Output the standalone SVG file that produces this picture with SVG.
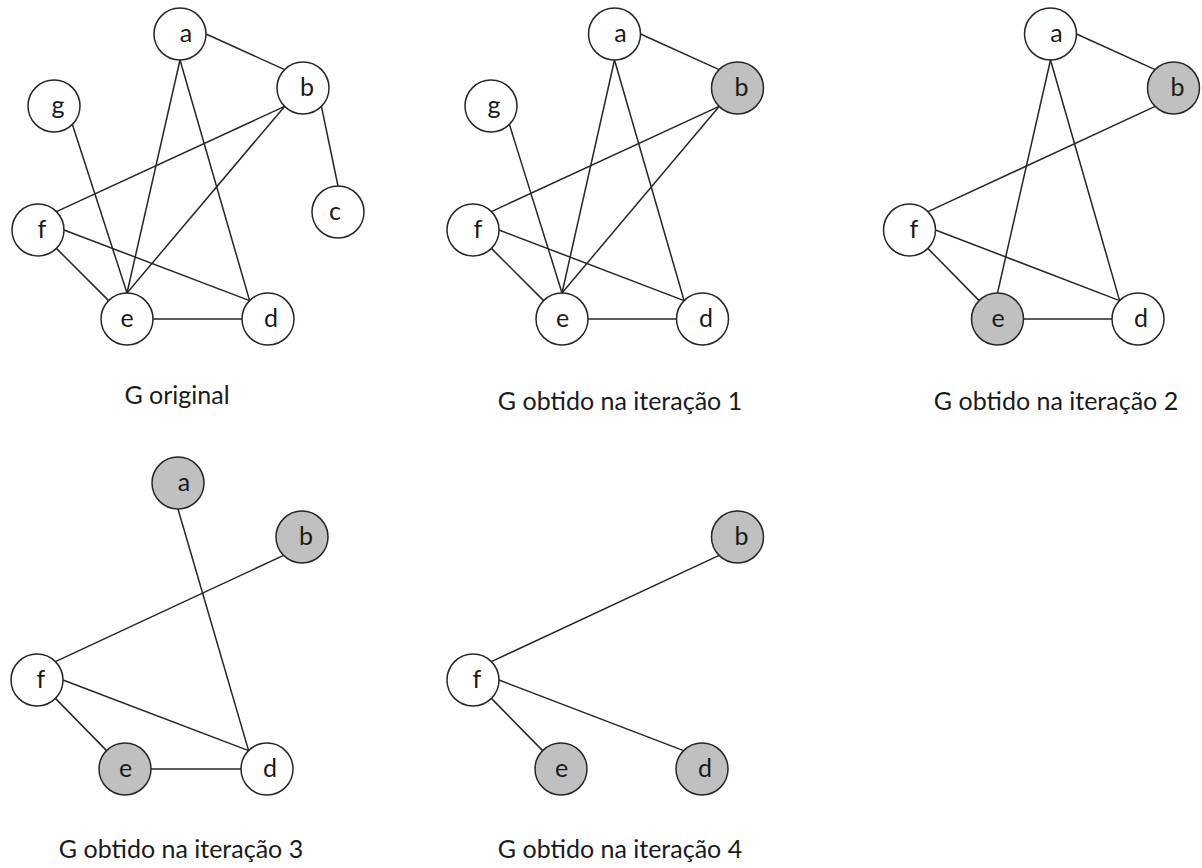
<svg xmlns="http://www.w3.org/2000/svg" width="1202" height="868" viewBox="0 0 1202 868">
  <style>
    .edge { stroke: #262626; stroke-width: 1.5; fill: none; }
    .node circle { stroke: #262626; stroke-width: 1.5; fill: #ffffff; }
    .node.marked circle { fill: #c0c0c0; }
    .node text { font-family: Lato, "Liberation Sans", sans-serif; font-size: 25px; fill: #1a1a1a; text-anchor: middle; }
    .caption { font-family: Lato, "Liberation Sans", sans-serif; font-size: 25px; fill: #1a1a1a; text-anchor: middle; }
  </style>

  <!-- connectors -->
  <g id="edges">
    <!-- G original -->
    <line class="edge" x1="206" y1="34" x2="284.6" y2="69.6"/>
    <line class="edge" x1="180" y1="60" x2="127" y2="293"/>
    <line class="edge" x1="180" y1="60" x2="249.6" y2="300.6"/>
    <line class="edge" x1="72.4" y1="124.4" x2="127" y2="293"/>
    <line class="edge" x1="284.6" y1="106.4" x2="56.4" y2="211.6"/>
    <line class="edge" x1="284.6" y1="106.4" x2="127" y2="293"/>
    <line class="edge" x1="321.4" y1="106.4" x2="338" y2="186"/>
    <line class="edge" x1="56.4" y1="248.4" x2="108.6" y2="300.6"/>
    <line class="edge" x1="64" y1="230" x2="249.6" y2="300.6"/>
    <line class="edge" x1="153" y1="319" x2="242" y2="319"/>
    <!-- iteration 1 -->
    <line class="edge" x1="640.5" y1="34" x2="719.1" y2="69.6"/>
    <line class="edge" x1="614.5" y1="60" x2="562" y2="293"/>
    <line class="edge" x1="614.5" y1="60" x2="684.1" y2="300.6"/>
    <line class="edge" x1="509.4" y1="124.4" x2="562" y2="293"/>
    <line class="edge" x1="719.1" y1="106.4" x2="491.4" y2="211.6"/>
    <line class="edge" x1="719.1" y1="106.4" x2="562" y2="293"/>
    <line class="edge" x1="491.4" y1="248.4" x2="543.6" y2="300.6"/>
    <line class="edge" x1="499" y1="230" x2="684.1" y2="300.6"/>
    <line class="edge" x1="588" y1="319" x2="676.5" y2="319"/>
    <!-- iteration 2 -->
    <line class="edge" x1="1076.5" y1="34" x2="1155.1" y2="69.6"/>
    <line class="edge" x1="1050.5" y1="60" x2="997.5" y2="293"/>
    <line class="edge" x1="1050.5" y1="60" x2="1119.6" y2="300.6"/>
    <line class="edge" x1="1155.1" y1="106.4" x2="927.9" y2="211.6"/>
    <line class="edge" x1="927.9" y1="248.4" x2="979.1" y2="300.6"/>
    <line class="edge" x1="935.5" y1="230" x2="1119.6" y2="300.6"/>
    <line class="edge" x1="1023.5" y1="319" x2="1112" y2="319"/>
    <!-- iteration 3 -->
    <line class="edge" x1="178" y1="509" x2="248.6" y2="750.6"/>
    <line class="edge" x1="283.6" y1="555.4" x2="55.4" y2="661.6"/>
    <line class="edge" x1="55.4" y1="698.4" x2="106.6" y2="750.6"/>
    <line class="edge" x1="63" y1="680" x2="248.6" y2="750.6"/>
    <line class="edge" x1="151" y1="769" x2="241" y2="769"/>
    <!-- iteration 4 -->
    <line class="edge" x1="719.1" y1="555.4" x2="491.4" y2="661.6"/>
    <line class="edge" x1="491.4" y1="698.4" x2="542.6" y2="750.6"/>
    <line class="edge" x1="499" y1="680" x2="683.6" y2="750.6"/>
  </g>

  <!-- G original -->
  <g id="g0-a" class="node"><circle cx="180" cy="34" r="26"/><text x="186" y="42">a</text></g>
  <g id="g0-b" class="node"><circle cx="303" cy="88" r="26"/><text x="307" y="96">b</text></g>
  <g id="g0-g" class="node"><circle cx="54" cy="106" r="26"/><text x="58" y="114">g</text></g>
  <g id="g0-c" class="node"><circle cx="338" cy="212" r="26"/><text x="335" y="220">c</text></g>
  <g id="g0-f" class="node"><circle cx="38" cy="230" r="26"/><text x="42" y="238">f</text></g>
  <g id="g0-e" class="node"><circle cx="127" cy="319" r="26"/><text x="127" y="327">e</text></g>
  <g id="g0-d" class="node"><circle cx="268" cy="319" r="26"/><text x="271" y="327">d</text></g>
  <text id="cap0" class="caption" x="177" y="404">G original</text>

  <!-- iteration 1 -->
  <g id="g1-a" class="node"><circle cx="614.5" cy="34" r="26"/><text x="620.5" y="42">a</text></g>
  <g id="g1-b" class="node marked"><circle cx="737.5" cy="88" r="26"/><text x="741.5" y="96">b</text></g>
  <g id="g1-g" class="node"><circle cx="491" cy="106" r="26"/><text x="494" y="114">g</text></g>
  <g id="g1-f" class="node"><circle cx="473" cy="230" r="26"/><text x="478" y="238">f</text></g>
  <g id="g1-e" class="node"><circle cx="562" cy="319" r="26"/><text x="562.5" y="327">e</text></g>
  <g id="g1-d" class="node"><circle cx="702.5" cy="319" r="26"/><text x="706" y="327">d</text></g>
  <text id="cap1" class="caption" x="620" y="410">G obtido na iteração 1</text>

  <!-- iteration 2 -->
  <g id="g2-a" class="node"><circle cx="1050.5" cy="34" r="26"/><text x="1056.5" y="42">a</text></g>
  <g id="g2-b" class="node marked"><circle cx="1173.5" cy="88" r="26"/><text x="1177.5" y="96">b</text></g>
  <g id="g2-f" class="node"><circle cx="909.5" cy="230" r="26"/><text x="914" y="238">f</text></g>
  <g id="g2-e" class="node marked"><circle cx="997.5" cy="319" r="26"/><text x="998" y="327">e</text></g>
  <g id="g2-d" class="node"><circle cx="1138" cy="319" r="26"/><text x="1141" y="327">d</text></g>
  <text id="cap2" class="caption" x="1056" y="410">G obtido na iteração 2</text>

  <!-- iteration 3 -->
  <g id="g3-a" class="node marked"><circle cx="178" cy="483" r="26"/><text x="184" y="491">a</text></g>
  <g id="g3-b" class="node marked"><circle cx="302" cy="537" r="26"/><text x="306" y="545">b</text></g>
  <g id="g3-f" class="node"><circle cx="37" cy="680" r="26"/><text x="41" y="688">f</text></g>
  <g id="g3-e" class="node marked"><circle cx="125" cy="769" r="26"/><text x="125.5" y="777">e</text></g>
  <g id="g3-d" class="node"><circle cx="267" cy="769" r="26"/><text x="270" y="777">d</text></g>
  <text id="cap3" class="caption" x="181" y="858">G obtido na iteração 3</text>

  <!-- iteration 4 -->
  <g id="g4-b" class="node marked"><circle cx="737.5" cy="537" r="26"/><text x="741.5" y="545">b</text></g>
  <g id="g4-f" class="node"><circle cx="473" cy="680" r="26"/><text x="477" y="688">f</text></g>
  <g id="g4-e" class="node marked"><circle cx="561" cy="769" r="26"/><text x="561.5" y="777">e</text></g>
  <g id="g4-d" class="node marked"><circle cx="702" cy="769" r="26"/><text x="705" y="777">d</text></g>
  <text id="cap4" class="caption" x="620" y="858">G obtido na iteração 4</text>
</svg>
